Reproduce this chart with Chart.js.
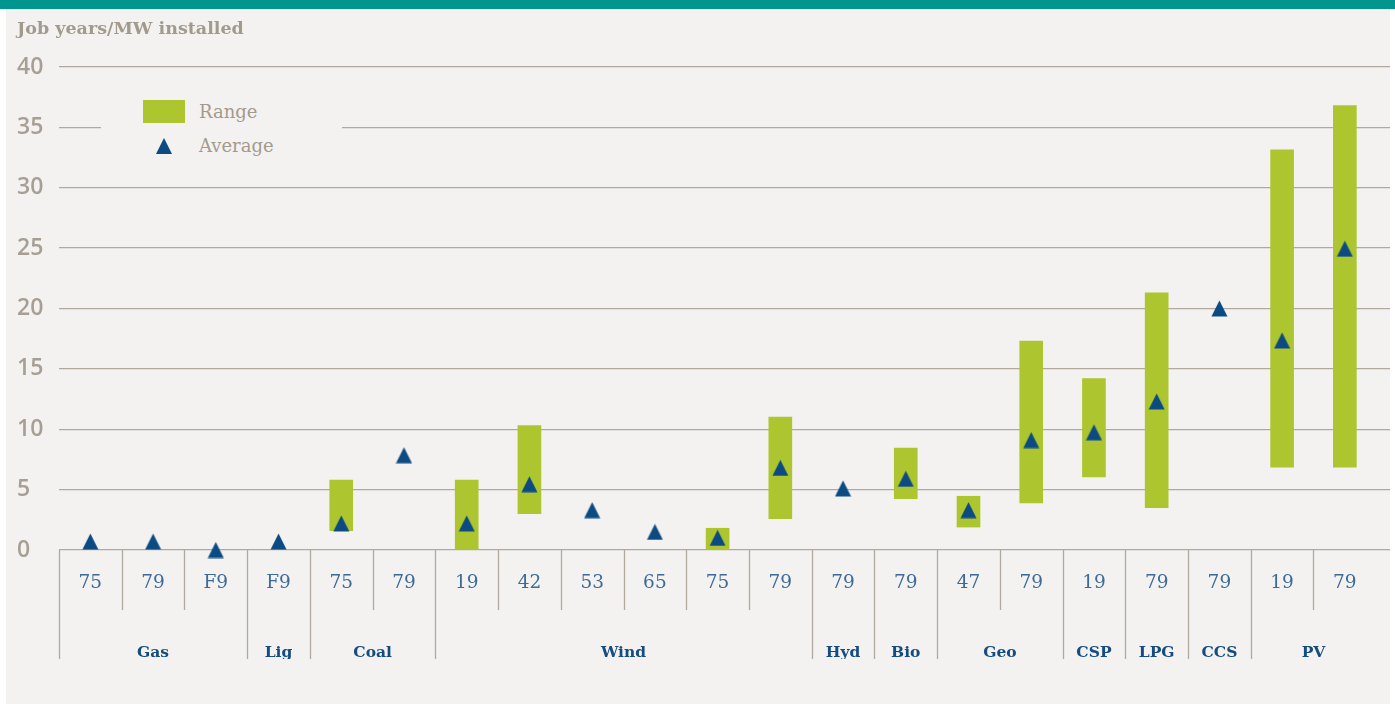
<!DOCTYPE html>
<html>
<head>
<meta charset="utf-8">
<script src="https://cdn.jsdelivr.net/npm/chart.js@4/dist/chart.umd.min.js"></script>
<style>
  html, body { margin: 0; padding: 0; background: #fff; }
  body { width: 1395px; height: 704px; position: relative; overflow: hidden; }
  #topbar { position: absolute; left: 0; top: 0; width: 1395px; height: 9px; background: #00968f; }
  #panel { position: absolute; left: 6px; top: 9px; width: 1384px; height: 695px; background: #f3f2f0; }
  #wrap { position: absolute; left: 0; top: 0; width: 1395px; height: 704px; }
  #title { position: absolute; left: 17px; top: 18px; font: bold 17.5px "DejaVu Serif", serif; color: #a39a8e; }
  #legend { position: absolute; left: 101px; top: 96px; width: 241px; height: 66px; background: #f3f2f0; }
  .sw { position: absolute; left: 42px; top: 4px; width: 42px; height: 23px; background: #adc62f; }
  .tri { position: absolute; left: 55px; top: 42px; width: 0; height: 0;
         border-left: 8px solid transparent; border-right: 8px solid transparent; border-bottom: 16px solid #0b4a82; }
  .lt { position: absolute; left: 98px; font: 18px "DejaVu Serif", serif; color: #a39a8e; line-height: 20px; }
</style>
</head>
<body>
<div id="topbar"></div>
<div id="panel"></div>
<div id="wrap"><canvas id="chart" width="1395" height="704"></canvas></div>
<div id="title">Job years/MW installed</div>
<div id="legend">
  <div class="sw"></div><div class="lt" style="top:6px">Range</div>
  <div class="tri"></div><div class="lt" style="top:40px">Average</div>
</div>
<script>
// 카테고리 (연구 번호) 와 그룹
const numLabels = ['75', '79', 'F9', 'F9', '75', '79', '19', '42', '53', '65', '75', '79', '79', '79', '47', '79', '19', '79', '79', '19', '79'];
const groups = ['Gas', 'Lig', 'Coal', 'Wind', 'Hyd', 'Bio', 'Geo', 'CSP', 'LPG', 'CCS', 'PV'];
const groupSizes = [3, 1, 2, 6, 1, 1, 2, 1, 1, 1, 2];

// 범위 (최소/최대) 와 평균
const rangeLow = [null, null, null, null, 1.6, null, 0, 3.0, null, null, 0, 2.6, null, 4.25, 1.9, 3.9, 6.05, 3.5, null, 6.85, 6.85];
const rangeHigh = [null, null, null, null, 5.8, null, 5.8, 10.3, null, null, 1.8, 11.0, null, 8.45, 4.45, 17.3, 14.2, 21.3, null, 33.15, 36.8];
const averages = [0.7, 0.7, 0, 0.7, 2.2, 7.85, 2.2, 5.45, 3.3, 1.5, 1.0, 6.8, 5.1, 5.9, 3.3, 9.1, 9.75, 12.3, 20.0, 17.35, 24.95];

const gridColor = '#b1a99e';

// 그룹 시작 위치와 중심
const groupStarts = [];
const groupCenters = [];
let pos = 0;
groupSizes.forEach((n) => {
  groupStarts.push(pos);
  groupCenters.push(pos + (n - 1) / 2);
  pos += n;
});

// 삼각형 마커
const tri = document.createElement('canvas');
tri.width = 17;
tri.height = 17;
const tctx = tri.getContext('2d');
tctx.fillStyle = '#0b4a82';
tctx.beginPath();
tctx.moveTo(0.5, 16.5);
tctx.lineTo(8.5, 0.5);
tctx.lineTo(16.5, 16.5);
tctx.closePath();
tctx.fill();

const rangeData = [];
rangeLow.forEach((lo, i) => {
  if (lo !== null) rangeData.push({ x: i, y: [lo, rangeHigh[i]] });
});
const avgData = averages.map((v, i) => ({ x: i, y: v }));

// 구분선 그리기
const separators = {
  id: 'separators',
  afterDraw(chart) {
    const { ctx, chartArea, scales } = chart;
    ctx.save();
    ctx.strokeStyle = gridColor;
    ctx.lineWidth = 1.3;
    for (let i = 0; i < numLabels.length; i++) {
      const px = Math.round(scales.x.getPixelForValue(i - 0.5)) + 0.5;
      const bottom = groupStarts.includes(i) ? scales.g.bottom : scales.x.bottom;
      ctx.beginPath();
      ctx.moveTo(px, chartArea.bottom);
      ctx.lineTo(px, bottom);
      ctx.stroke();
    }
    ctx.restore();
  }
};

const xMin = -0.5;
const xMax = 20.72;

new Chart(document.getElementById('chart'), {
  type: 'bar',
  data: {
    datasets: [{
      type: 'scatter',
      label: 'Average',
      data: avgData,
      pointStyle: tri,
      order: 0,
      clip: false
    }, {
      type: 'bar',
      label: 'Range',
      data: rangeData,
      backgroundColor: '#adc62f',
      borderWidth: 0,
      barThickness: 23,
      order: 1
    }]
  },
  options: {
    responsive: false,
    animation: false,
    events: [],
    layout: { padding: { left: 17, right: 5, top: 67, bottom: 45 } },
    plugins: { legend: { display: false }, tooltip: { enabled: false } },
    scales: {
      x: {
        type: 'linear',
        position: 'bottom',
        offset: false,
        min: xMin,
        max: xMax,
        afterBuildTicks: (s) => { s.ticks = numLabels.map((_, i) => ({ value: i })); },
        afterFit: (s) => { s.height = 60; },
        grid: { display: false, drawTicks: true, tickLength: 22 },
        border: { display: false },
        ticks: {
          autoSkip: false,
          maxRotation: 0,
          padding: 0,
          color: '#3d6a98',
          font: { family: 'DejaVu Serif', size: 18.5 },
          callback: (v, i) => numLabels[i]
        }
      },
      g: {
        type: 'linear',
        position: 'bottom',
        offset: false,
        min: xMin,
        max: xMax,
        afterBuildTicks: (s) => { s.ticks = groupCenters.map((c) => ({ value: c })); },
        afterFit: (s) => { s.height = 49; },
        grid: { display: false, drawTicks: true, tickLength: 34 },
        border: { display: false },
        ticks: {
          autoSkip: false,
          maxRotation: 0,
          padding: 0,
          color: '#164c7e',
          font: { family: 'DejaVu Serif', size: 15.5, weight: 'bold' },
          callback: (v, i) => groups[i]
        }
      },
      y: {
        min: 0,
        max: 40,
        afterFit: (s) => { s.width = 42; },
        grid: { color: gridColor, lineWidth: 1.3, drawTicks: false },
        border: { display: false },
        ticks: {
          stepSize: 5,
          crossAlign: 'far',
          padding: 0,
          color: '#a89f94',
          font: { family: 'Open Sans', size: 23, weight: '600' }
        }
      }
    }
  },
  plugins: [separators]
});
</script>
</body>
</html>
